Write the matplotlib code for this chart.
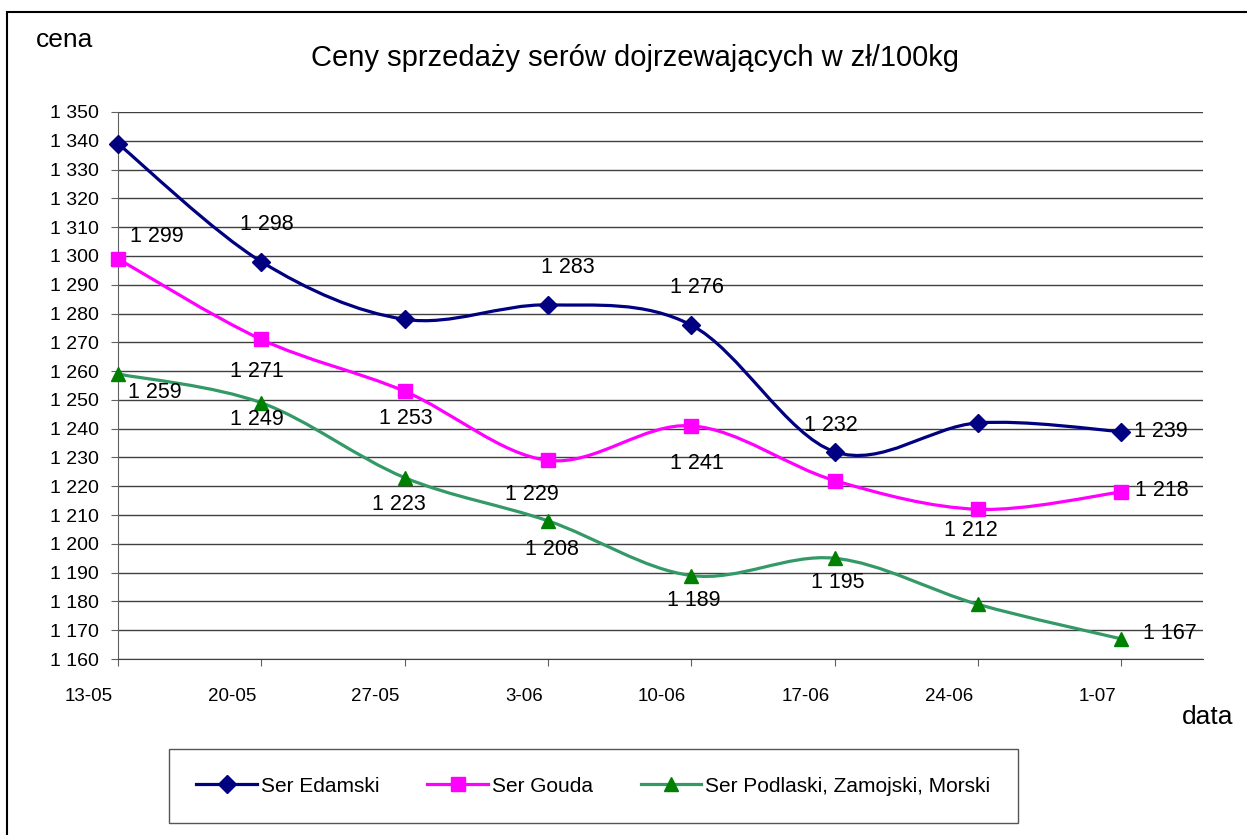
import matplotlib
matplotlib.use("Agg")
import matplotlib.pyplot as plt
from matplotlib.path import Path
from matplotlib.patches import PathPatch, Rectangle
from matplotlib.lines import Line2D
from matplotlib.transforms import ScaledTranslation
import numpy as np

# data
dates = ['13-05', '20-05', '27-05', '3-06', '10-06', '17-06', '24-06', '1-07']
edamski = [1339, 1298, 1278, 1283, 1276, 1232, 1242, 1239]
gouda = [1299, 1271, 1253, 1229, 1241, 1222, 1212, 1218]
podlaski = [1259, 1249, 1223, 1208, 1189, 1195, 1179, 1167]
names = ['Ser Edamski', 'Ser Gouda', 'Ser Podlaski, Zamojski, Morski']

# label offsets in pixels (dx, dy down), None = no label
off_e = [None, (6, -37), None, (20, -37), (6, -38), (-4, -26), None, (40, 0)]
off_g = [(39, -22), (-4, 32), (1, 27), (-16, 34), (6, 38), None, (-7, 21), (41, -2)]
off_p = [(37, 19), (-4, 17), (-6, 27), (4, 29), (3, 25), (3, 24), None, (49, -5)]

plt.rcParams['font.family'] = ['Liberation Sans', 'DejaVu Sans']

fig = plt.figure(figsize=(12.47, 8.35), dpi=100)
ax = fig.add_axes([118/1247, 1-659/835, (1203-118)/1247, (659-112)/835])


def smooth(xs, ys):
    # bezier curve through the points, like excel smoothed lines
    n = len(xs)
    verts = [(xs[0], ys[0])]
    codes = [Path.MOVETO]
    for i in range(n-1):
        a = max(i-1, 0)
        b = min(i+2, n-1)
        c1 = (xs[i] + (xs[i+1]-xs[a])/6, ys[i] + (ys[i+1]-ys[a])/6)
        c2 = (xs[i+1] - (xs[b]-xs[i])/6, ys[i+1] - (ys[b]-ys[i])/6)
        verts += [c1, c2, (xs[i+1], ys[i+1])]
        codes += [Path.CURVE4]*3
    return Path(verts, codes)


def fmt(v):
    return f"{int(v):,}".replace(',', ' ')


x = np.arange(len(dates))
series = [
    (edamski, '#000080', '#000080', 'D', 9.5, off_e),
    (gouda, '#FF00FF', '#FF00FF', 's', 9.5, off_g),
    (podlaski, '#339966', '#008000', '^', 10.5, off_p),
]

handles = []
for (vals, lc, mc, mk, ms, offs), name in zip(series, names):
    ax.add_patch(PathPatch(smooth(x, vals), fill=False, edgecolor=lc, lw=2.3,
                           zorder=3, clip_on=False))
    ax.plot(x, vals, ls='none', marker=mk, ms=ms, color=mc, zorder=4, clip_on=False)
    for xi, v, o in zip(x, vals, offs):
        if o is None:
            continue
        ax.annotate(fmt(v), (xi, v), xytext=(o[0], -o[1]), textcoords='offset pixels',
                    ha='center', va='center', fontsize=15.5, zorder=5)
    handles.append(Line2D([], [], color=lc, lw=2.3, marker=mk, ms=ms,
                          markerfacecolor=mc, markeredgecolor=mc))

ax.set_xlim(0, (1203-118)/143.3)
ax.set_ylim(1160, 1350)
ax.set_xticks(x)
ax.set_xticklabels(dates, fontsize=13.5)
ax.set_yticks(np.arange(1160, 1351, 10))
ax.set_yticklabels([fmt(v) for v in np.arange(1160, 1351, 10)], fontsize=14)
ax.tick_params(axis='y', length=5, pad=8.5, color='#606060')
ax.tick_params(axis='x', length=5, pad=16, color='#606060')
for lab in ax.get_xticklabels():
    lab.set_horizontalalignment('right')
    lab.set_transform(lab.get_transform() + ScaledTranslation(-0.05, 0, fig.dpi_scale_trans))

ax.grid(axis='y', color='#404040', lw=1)
ax.set_axisbelow(True)
for s in ['top', 'right']:
    ax.spines[s].set_visible(False)
ax.spines['left'].set_color('#606060')
ax.spines['bottom'].set_color('#404040')

fig.text(635/1247, 1-58/835, 'Ceny sprzedaży serów dojrzewających w zł/100kg',
         ha='center', va='center', fontsize=21)
fig.text(65/1247, 1-40/835, 'cena', ha='center', va='center', fontsize=19)
fig.text(1208/1247, 1-717/835, 'data', ha='center', va='center', fontsize=19)

leg = fig.legend(handles, names, loc='center', bbox_to_anchor=(593.5/1247, 1-786/835),
                 ncol=3, fontsize=15, handlelength=2.9, handletextpad=0.2,
                 columnspacing=2.3, borderpad=1.3, fancybox=False, framealpha=1)
leg.get_frame().set_edgecolor('#555555')
leg.get_frame().set_linewidth(1)

# border of the chart area
fig.patches.append(Rectangle((7/1247, -0.1), 1.2, 1.1-12/835, transform=fig.transFigure,
                             fill=False, edgecolor='black', lw=1.5))

fig.savefig('out.png', dpi=100)
